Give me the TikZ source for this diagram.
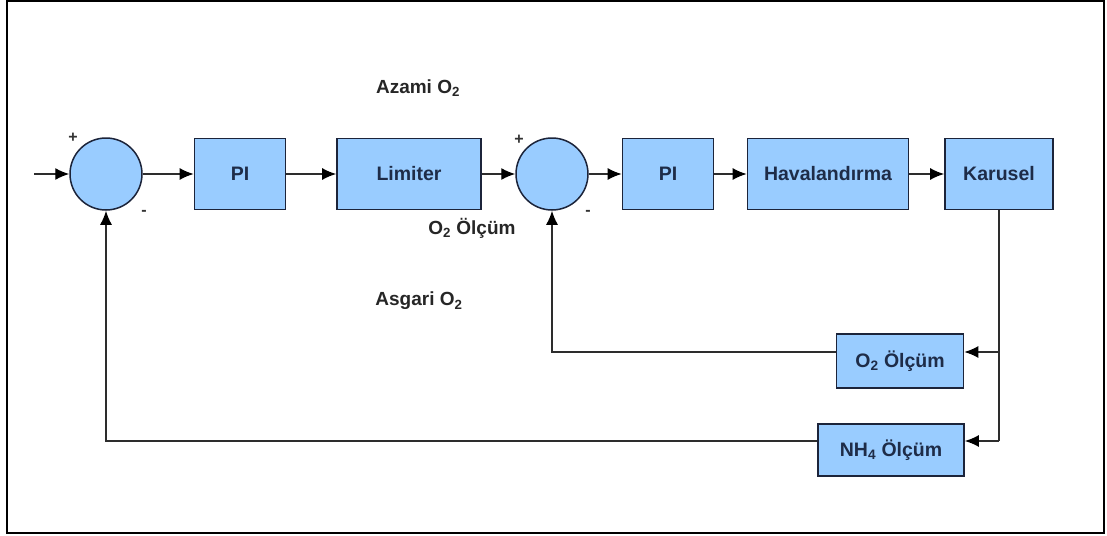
\documentclass[tikz,border=0pt]{standalone}
\usepackage{fontspec}
\setmainfont{Liberation Sans}
\usetikzlibrary{arrows.meta}
\definecolor{blkfill}{RGB}{153,204,255}
\definecolor{blkedge}{RGB}{28,36,58}
\definecolor{blktext}{RGB}{30,44,72}
\definecolor{wire}{RGB}{45,45,45}
\tikzset{
  blk/.style={draw=blkedge, line width=1.7pt, fill=blkfill, text=blktext,
    font=\fontsize{19.5}{23}\selectfont\bfseries, inner sep=0pt},
  sumnode/.style={circle, draw=blkedge, line width=1.5pt, fill=blkfill,
    minimum size=72pt, inner sep=0pt},
  wireline/.style={draw=wire, line width=1.4pt},
  arr/.style={wireline, -{Latex[length=14pt,width=12pt,color=black]}},
  lbl/.style={text=black!85, font=\fontsize{19}{23}\selectfont\bfseries, inner sep=0pt},
  sgn/.style={text=black!80, font=\fontsize{16}{18}\selectfont\bfseries, inner sep=0pt},
  frame/.style={draw=black, line width=2.6pt}
}
\begin{document}
\begin{tikzpicture}[x=1pt,y=-1pt]
\useasboundingbox (0,0) rectangle (1107,535);
\draw[frame] (7,1) rectangle (1104,533);

% forward path
\coordinate (in) at (34,174);
\node[sumnode] (s1) at (106,174) {};
\node[blk, minimum width=91pt, minimum height=71pt] (pi1) at (240,174) {PI};
\node[blk, minimum width=144pt, minimum height=71pt] (lim) at (409,174) {Limiter};
\node[sumnode] (s2) at (552,174) {};
\node[blk, minimum width=91pt, minimum height=71pt] (pi2) at (668,174) {PI};
\node[blk, minimum width=161pt, minimum height=71pt] (hav) at (828,174) {Havalandırma};
\node[blk, minimum width=108pt, minimum height=71pt] (kar) at (999,174) {Karusel};

% measurement blocks
\node[blk, minimum width=127pt, minimum height=54pt] (o2m) at (900,361) {O\textsubscript{2} Ölçüm};
\node[blk, minimum width=146pt, minimum height=52pt] (nh4) at (891,450) {NH\textsubscript{4} Ölçüm};

% signs at the summing junctions
\node[sgn] (p1) at (73,138) {+};
\node[sgn] (m1) at (144,213) {-};
\node[sgn] (p2) at (519,140) {+};
\node[sgn] (m2) at (588,213) {-};

% free labels
\node[lbl] (azami) at (418,88) {Azami O\textsubscript{2}};
\node[lbl] (olcum) at (472,228) {O\textsubscript{2} Ölçüm};
\node[lbl] (asgari) at (419,301) {Asgari O\textsubscript{2}};

% connections
\draw[arr] (in) -- (s1.west);
\draw[arr] (s1.east) -- (pi1.west);
\draw[arr] (pi1.east) -- (lim.west);
\draw[arr] (lim.east) -- (s2.west);
\draw[arr] (s2.east) -- (pi2.west);
\draw[arr] (pi2.east) -- (hav.west);
\draw[arr] (hav.east) -- (kar.west);

% feedback paths
\coordinate (t1) at (999,352);
\coordinate (t2) at (999,441);
\draw[wireline] (kar.south) -- (t2);
\draw[arr] (t1) -- (o2m.east |- t1);
\draw[arr] (t2) -- (nh4.east |- t2);
\draw[arr] (o2m.west |- t1) -| (s2.south);
\draw[arr] (nh4.west |- t2) -| (s1.south);
\end{tikzpicture}
\end{document}
